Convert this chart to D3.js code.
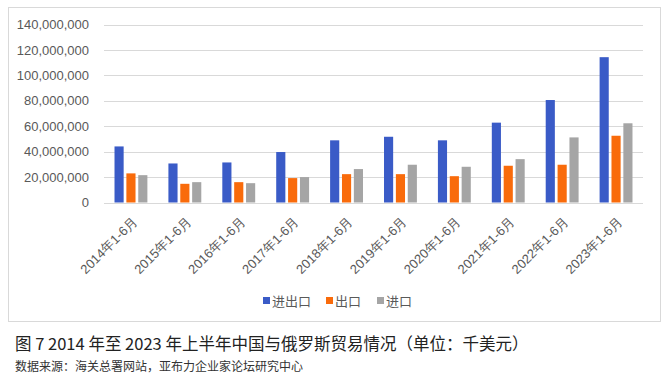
<!DOCTYPE html>
<meta charset="utf-8">
<style>
body { margin: 0; background: #fff; font-family: 'Noto Sans CJK SC', 'Liberation Sans', sans-serif; }
.grid line { stroke: #d9d9d9; stroke-width: 1; shape-rendering: crispEdges; }
.grid path { stroke-width: 0; }
.y.axis path, .y.axis line { display: none; }
.y.axis text { fill: #595959; font-size: 13px; }
.x.axis path, .x.axis line { display: none; }
.x.axis text { fill: #595959; font-size: 13px; }
.legend text { fill: #595959; font-size: 13px; }
</style>
<body>
<script src="https://d3js.org/d3.v7.min.js"></script>
<script>
// categories and series (单位：千美元)
var periods = ["2014年1-6月", "2015年1-6月", "2016年1-6月", "2017年1-6月", "2018年1-6月",
               "2019年1-6月", "2020年1-6月", "2021年1-6月", "2022年1-6月", "2023年1-6月"];
var seriesNames = ["进出口", "出口", "进口"];
var total   = [44100000, 30700000, 31500000, 39700000, 48900000, 51700000, 48900000, 62800000, 80600000, 114300000];
var exports = [22900000, 14700000, 16000000, 19200000, 22300000, 22300000, 20700000, 28900000, 29700000, 52500000];
var imports = [21500000, 16000000, 15200000, 20000000, 26300000, 29700000, 28100000, 34100000, 51200000, 62300000];
var yTicks  = [0, 20000000, 40000000, 60000000, 80000000, 100000000, 120000000, 140000000];
var colors  = ["#3a5bc7", "#f96b0b", "#a5a5a5"];

var W = 670, H = 375;
var margin = {top: 24.5, left: 104, right: 27, bottom: 172.5};
var width = W - margin.left - margin.right,
    height = H - margin.top - margin.bottom;

var data = periods.map(function(p, i) {
  return {period: p, values: [total[i], exports[i], imports[i]]};
});

var svg = d3.select("body").append("svg")
    .attr("width", W)
    .attr("height", H);

// chart frame
svg.append("rect")
    .attr("x", 8.5).attr("y", 7.5)
    .attr("width", 652).attr("height", 314)
    .style("fill", "none")
    .style("stroke", "#d9d9d9");

var g = svg.append("g")
    .attr("transform", "translate(" + margin.left + "," + margin.top + ")");

var x0 = d3.scaleBand().domain(periods).range([0, width])
    .paddingInner(0.39).paddingOuter(0.195);
var x1 = d3.scaleBand().domain(d3.range(3)).range([0, x0.bandwidth()])
    .paddingInner(0.23);
var y = d3.scaleLinear().domain([0, 140000000]).range([height, 0]);

// gridlines
g.append("g")
    .attr("class", "grid")
    .call(d3.axisLeft(y).tickValues(yTicks).tickSize(-width).tickFormat(""));

// y axis labels
g.append("g")
    .attr("class", "y axis")
    .attr("transform", "translate(-12,0)")
    .call(d3.axisLeft(y).tickValues(yTicks).tickSize(0).tickFormat(d3.format(",")));

// bars
var groups = g.selectAll(".grp")
    .data(data)
  .enter().append("g")
    .attr("class", "grp")
    .attr("transform", function(d) { return "translate(" + x0(d.period) + ",0)"; });

groups.selectAll("rect")
    .data(function(d) { return d.values; })
  .enter().append("rect")
    .attr("x", function(d, i) { return x1(i); })
    .attr("width", x1.bandwidth())
    .attr("y", function(d) { return y(d); })
    .attr("height", function(d) { return height - y(d); })
    .style("fill", function(d, i) { return colors[i]; });

// x labels, rotated
var xAxis = g.append("g")
    .attr("class", "x axis")
    .attr("transform", "translate(0," + height + ")")
    .call(d3.axisBottom(x0).tickSize(0).tickPadding(0));

xAxis.selectAll("text")
    .attr("text-anchor", "end")
    .attr("dy", "0")
    .attr("transform", "translate(7,20) rotate(-45)");

// legend
var legend = svg.append("g").attr("class", "legend");
var legendX = [263, 326, 377];
seriesNames.forEach(function(name, i) {
  legend.append("rect")
      .attr("x", legendX[i]).attr("y", 297)
      .attr("width", 7).attr("height", 7)
      .style("fill", colors[i]);
  legend.append("text")
      .attr("x", legendX[i] + 9).attr("y", 305.5)
      .text(name);
});

// caption + source
svg.append("text")
    .attr("x", 15).attr("y", 350)
    .style("font-size", "16.5px")
    .style("fill", "#222")
    .text("图 7 2014 年至 2023 年上半年中国与俄罗斯贸易情况（单位：千美元）");

svg.append("text")
    .attr("x", 15).attr("y", 371)
    .style("font-size", "12px")
    .style("fill", "#333")
    .text("数据来源：海关总署网站，亚布力企业家论坛研究中心");
</script>
